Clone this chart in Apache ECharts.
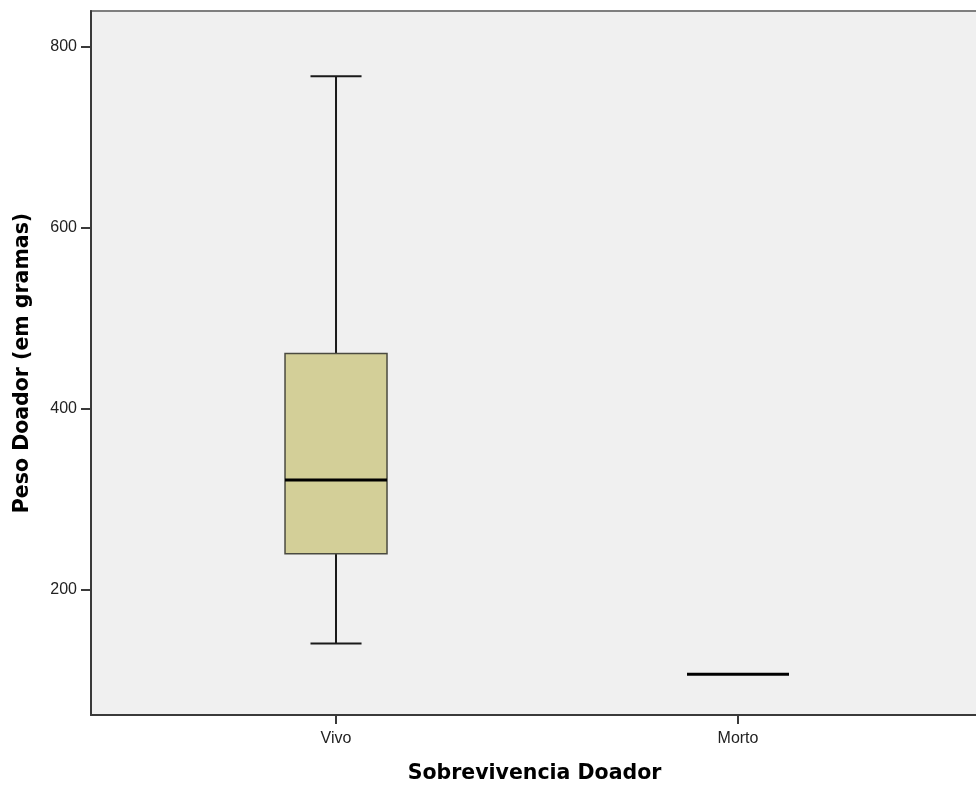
<!DOCTYPE html>
<html><head><meta charset="utf-8">
<script src="https://cdn.jsdelivr.net/npm/echarts@6/dist/echarts.min.js"></script>
<style>html,body{margin:0;padding:0;background:#fff}#c{width:976px;height:788px}</style>
</head><body><div id="c"></div>
<script>
const categories = ['Vivo', 'Morto'];
const lowWhisker = [141, 107];
const q1Values = [240, 107];
const medianValues = [321.5, 107];
const q3Values = [461, 107];
const highWhisker = [767, 107];
const yTickValues = [200, 400, 600, 800];
const xTickValues = [1, 2];

const boxData = categories.map((c, i) => [i + 1, lowWhisker[i], q1Values[i], medianValues[i], q3Values[i], highWhisker[i]]);

const BOX_W = 0.2537; // in x-axis units
const CAP_W = 0.127;

const chart = echarts.init(document.getElementById('c'), null, {renderer: 'canvas'});
chart.setOption({
  backgroundColor: '#ffffff',
  animation: false,
  grid: {left: 91, top: 11, right: -2, bottom: 73, containLabel: false, outerBoundsMode: 'none', show: true, backgroundColor: '#f0f0f0', borderColor: '#7f7f7f', borderWidth: 2},
  xAxis: {
    type: 'value', min: 0.3905, max: 2.597,
    name: 'Sobrevivencia Doador', nameLocation: 'middle', nameGap: 48,
    nameTextStyle: {fontFamily: 'DejaVu Sans', fontWeight: 'bold', fontSize: 20.5, color: '#000'},
    axisLine: {show: true, lineStyle: {color: '#3a3a3a', width: 2}},
    axisTick: {show: true, length: 9, customValues: xTickValues, lineStyle: {color: '#3a3a3a', width: 2}},
    axisLabel: {customValues: xTickValues, formatter: v => categories[Math.round(v) - 1] || '', margin: 16, fontFamily: 'Liberation Sans', fontSize: 16, color: '#222'},
    splitLine: {show: false}
  },
  yAxis: {
    type: 'value', min: 62, max: 839,
    name: 'Peso Doador (em gramas)', nameLocation: 'middle', nameGap: 58,
    nameTextStyle: {fontFamily: 'DejaVu Sans', fontWeight: 'bold', fontSize: 20.5, color: '#000'},
    axisLine: {show: true, lineStyle: {color: '#3a3a3a', width: 2}},
    axisTick: {show: true, length: 10, customValues: yTickValues, lineStyle: {color: '#3a3a3a', width: 2}},
    axisLabel: {customValues: yTickValues, margin: 14, fontFamily: 'Liberation Sans', fontSize: 16, color: '#222'},
    splitLine: {show: false}
  },
  series: [{
    type: 'custom',
    data: boxData,
    encode: {x: 0, y: [1, 2, 3, 4, 5]},
    renderItem: function (params, api) {
      const x = api.value(0);
      const lo = api.coord([x, api.value(1)]);
      const b1 = api.coord([x, api.value(2)]);
      const md = api.coord([x, api.value(3)]);
      const b3 = api.coord([x, api.value(4)]);
      const hi = api.coord([x, api.value(5)]);
      const bw = api.size([BOX_W, 0])[0];
      const cw = api.size([CAP_W, 0])[0];
      const cx = lo[0];
      const children = [];
      if (Math.abs(b1[1] - b3[1]) > 0.5) {
        const wl = {stroke: '#1a1a1a', lineWidth: 2};
        children.push({type: 'line', shape: {x1: cx, y1: hi[1], x2: cx, y2: b3[1]}, style: wl});
        children.push({type: 'line', shape: {x1: cx, y1: b1[1], x2: cx, y2: lo[1]}, style: wl});
        children.push({type: 'line', shape: {x1: cx - cw / 2, y1: hi[1], x2: cx + cw / 2, y2: hi[1]}, style: wl});
        children.push({type: 'line', shape: {x1: cx - cw / 2, y1: lo[1], x2: cx + cw / 2, y2: lo[1]}, style: wl});
        children.push({type: 'rect', shape: {x: cx - bw / 2, y: b3[1], width: bw, height: b1[1] - b3[1]}, style: {fill: '#d3cf98', stroke: '#4a4a40', lineWidth: 1.5}});
      }
      children.push({type: 'line', shape: {x1: cx - bw / 2, y1: md[1], x2: cx + bw / 2, y2: md[1]}, style: {stroke: '#000', lineWidth: 3}});
      return {type: 'group', children: children};
    }
  }]
});
</script></body></html>
